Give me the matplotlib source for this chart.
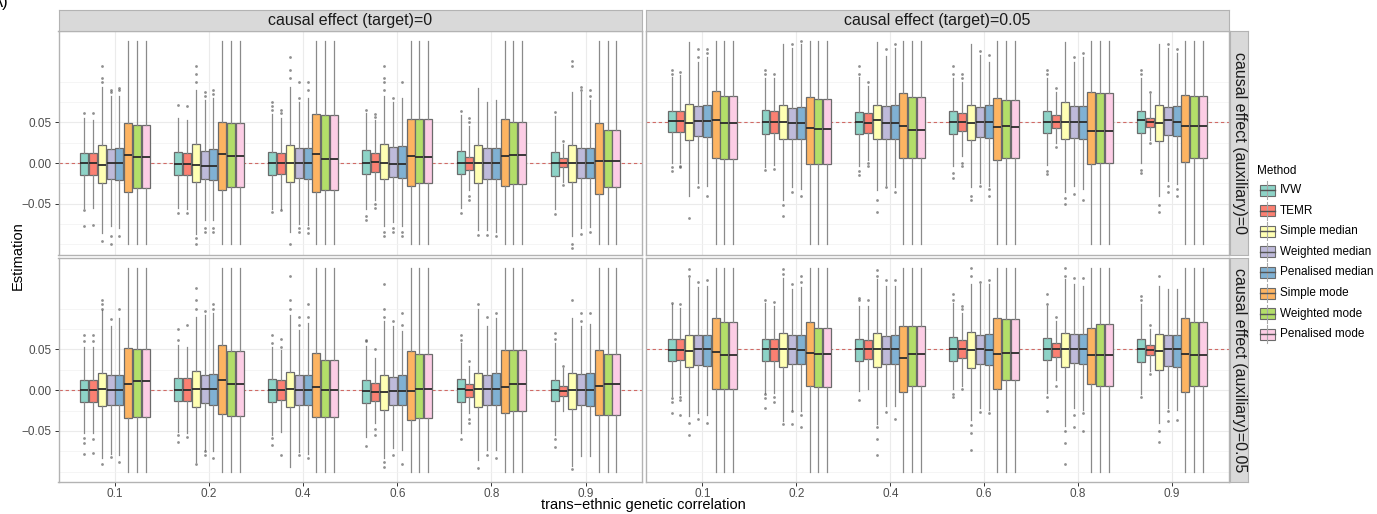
import numpy as np
import matplotlib
matplotlib.use("Agg")
import matplotlib.pyplot as plt
from matplotlib.patches import Rectangle

plt.rcParams['font.family'] = ['Liberation Sans', 'DejaVu Sans']

# ---------------- data ----------------
methods = ["IVW", "TEMR", "Simple median", "Weighted median", "Penalised median",
           "Simple mode", "Weighted mode", "Penalised mode"]
colors = ["#8DD3C7", "#FB8072", "#FFFFB3", "#BEBADA", "#80B1D3",
          "#FDB462", "#B3DE69", "#FCCDE5"]
rho_labels = ["0.1", "0.2", "0.4", "0.6", "0.8", "0.9"]
col_labels = ["causal effect (target)=0", "causal effect (target)=0.05"]
row_labels = ["causal effect (auxiliary)=0", "causal effect (auxiliary)=0.05"]
targets = [0.0, 0.05]
# whiskers of the three mode methods run past the plotting range
mode_whisker = (-0.1, 0.15)

# top-left: target=0, auxiliary=0   (rows = rho, cols = method)
tl_q1 = [[-0.015, -0.015, -0.024, -0.020, -0.021, -0.036, -0.031, -0.031],
         [-0.015, -0.015, -0.023, -0.019, -0.021, -0.033, -0.030, -0.030],
         [-0.015, -0.013, -0.023, -0.018, -0.019, -0.035, -0.033, -0.033],
         [-0.013, -0.011, -0.019, -0.017, -0.018, -0.028, -0.025, -0.025],
         [-0.014, -0.008, -0.024, -0.020, -0.020, -0.028, -0.026, -0.026],
         [-0.016, -0.005, -0.023, -0.018, -0.018, -0.038, -0.030, -0.030]]
tl_med = [[0.000, 0.000, -0.002, 0.000, 0.000, 0.010, 0.007, 0.007],
          [-0.001, -0.001, -0.002, -0.003, -0.003, 0.011, 0.009, 0.009],
          [0.000, 0.000, 0.000, 0.000, 0.000, 0.011, 0.005, 0.005],
          [0.000, 0.001, 0.000, -0.001, -0.001, 0.009, 0.008, 0.008],
          [0.0005, 0.000, 0.000, 0.000, 0.000, 0.009, 0.010, 0.010],
          [0.000, 0.000, 0.000, 0.000, 0.000, 0.002, 0.003, 0.003]]
tl_q3 = [[0.013, 0.013, 0.022, 0.017, 0.018, 0.049, 0.047, 0.047],
         [0.014, 0.013, 0.023, 0.015, 0.017, 0.050, 0.049, 0.049],
         [0.014, 0.012, 0.022, 0.018, 0.018, 0.060, 0.059, 0.059],
         [0.016, 0.012, 0.023, 0.020, 0.021, 0.054, 0.054, 0.054],
         [0.015, 0.008, 0.022, 0.018, 0.019, 0.054, 0.050, 0.050],
         [0.014, 0.006, 0.022, 0.018, 0.019, 0.049, 0.041, 0.041]]
tl_lo = [[-0.055, -0.055, -0.086, -0.078, -0.080],
         [-0.055, -0.057, -0.087, -0.070, -0.070],
         [-0.056, -0.057, -0.085, -0.075, -0.076],
         [-0.056, -0.045, -0.078, -0.072, -0.078],
         [-0.055, -0.033, -0.082, -0.082, -0.085],
         [-0.057, -0.023, -0.090, -0.080, -0.079]]
tl_hi = [[0.055, 0.053, 0.093, 0.083, 0.083],
         [0.055, 0.053, 0.090, 0.078, 0.080],
         [0.060, 0.055, 0.093, 0.075, 0.080],
         [0.061, 0.053, 0.083, 0.075, 0.080],
         [0.059, 0.045, 0.092, 0.075, 0.078],
         [0.058, 0.024, 0.088, 0.088, 0.077]]
tl_out = [[[0.062, -0.058, -0.078], [0.062, -0.076], [0.10, 0.105, 0.12, -0.096], [0.088, 0.09, -0.09, -0.1], [0.09, 0.092, -0.09]],
          [[0.071, -0.062], [0.07, -0.062], [0.1, 0.11, 0.12, -0.092, -0.1], [0.083, 0.088, -0.08, -0.085], [0.085, 0.09, -0.08, -0.085]],
          [[0.065, 0.07, 0.075, -0.06], [0.062, 0.065, -0.058], [0.105, 0.115, 0.13, -0.1], [0.08, 0.1, -0.08, -0.085], [0.09, 0.1, -0.08, -0.086]],
          [[0.065, -0.065, -0.07], [0.057, 0.06, -0.05, -0.055], [0.09, 0.1, 0.105, 0.12, -0.085, -0.09], [0.08, -0.08, -0.085], [0.1, -0.085, -0.09]],
          [[0.064, -0.062], [0.05, 0.055, -0.04, -0.045], [-0.088], [-0.088], [-0.09]],
          [[0.063, -0.063], [0.027, -0.027], [0.12, 0.125, -0.1, -0.105], [0.09, 0.094, -0.087], [0.082, 0.09, -0.085]]]

# top-right: target=0.05, auxiliary=0
tr_q1 = [[0.038, 0.038, 0.028, 0.033, 0.032, 0.006, 0.0045, 0.0045],
         [0.036, 0.037, 0.029, 0.030, 0.030, -0.0016, -0.0016, -0.0016],
         [0.036, 0.037, 0.030, 0.030, 0.029, 0.0065, 0.0065, 0.0065],
         [0.0356, 0.039, 0.028, 0.032, 0.031, 0.0037, 0.006, 0.006],
         [0.037, 0.0426, 0.029, 0.031, 0.030, -0.0016, 0.0004, 0.0004],
         [0.037, 0.0446, 0.027, 0.034, 0.033, 0.0016, 0.0065, 0.0065]]
tr_med = [[0.052, 0.052, 0.049, 0.052, 0.052, 0.053, 0.049, 0.049],
          [0.050, 0.050, 0.050, 0.049, 0.049, 0.043, 0.042, 0.042],
          [0.051, 0.049, 0.053, 0.049, 0.049, 0.046, 0.041, 0.041],
          [0.050, 0.050, 0.049, 0.050, 0.050, 0.044, 0.045, 0.044],
          [0.051, 0.051, 0.050, 0.051, 0.051, 0.039, 0.039, 0.039],
          [0.053, 0.051, 0.049, 0.053, 0.051, 0.046, 0.046, 0.046]]
tr_q3 = [[0.064, 0.064, 0.0725, 0.070, 0.071, 0.0885, 0.083, 0.083],
         [0.065, 0.064, 0.072, 0.068, 0.069, 0.081, 0.079, 0.079],
         [0.0627, 0.061, 0.072, 0.070, 0.071, 0.0856, 0.081, 0.081],
         [0.064, 0.061, 0.071, 0.069, 0.071, 0.0795, 0.077, 0.077],
         [0.064, 0.059, 0.075, 0.070, 0.070, 0.0876, 0.0866, 0.0866],
         [0.064, 0.056, 0.072, 0.069, 0.070, 0.0835, 0.083, 0.083]]
tr_lo = [[0.000, 0.000, -0.041, -0.025, -0.028],
         [-0.0045, -0.002, -0.045, -0.030, -0.032],
         [-0.004, 0.004, -0.033, -0.027, -0.029],
         [-0.004, 0.009, -0.030, -0.024, -0.028],
         [-0.002, 0.025, -0.036, -0.028, -0.032],
         [0.000, 0.028, -0.040, -0.022, -0.026]]
tr_hi = [[0.106, 0.108, 0.149, 0.124, 0.130],
         [0.105, 0.105, 0.146, 0.142, 0.146],
         [0.106, 0.095, 0.149, 0.132, 0.142],
         [0.105, 0.100, 0.146, 0.133, 0.124],
         [0.105, 0.087, 0.149, 0.124, 0.130],
         [0.105, 0.085, 0.147, 0.142, 0.135]]
tr_out = [[[0.11, 0.115, -0.005, -0.01], [0.112, -0.003, -0.005], [-0.068], [0.13, 0.14, -0.03], [0.135, 0.14, -0.04]],
          [[0.11, 0.115, -0.008], [0.11, -0.007], [-0.052, -0.065], [0.147, -0.035], [0.15, -0.04]],
          [[0.11, 0.12, -0.01, -0.015], [0.1, 0.0, -0.003], [-0.045, -0.06], [0.14, -0.03], [0.147, -0.035]],
          [[0.11, 0.12, -0.012, -0.018], [0.105, 0.11, 0.0, -0.003], [-0.04, -0.045], [0.138, -0.028], [0.133, -0.032, -0.04]],
          [[0.11, 0.115, -0.01, -0.013], [0.092, 0.02], [-0.043, -0.05], [0.13, -0.038], [0.135, -0.045]],
          [[0.11, 0.115, -0.008, -0.012], [0.088, 0.025], [-0.052, -0.06], [0.146, -0.028, -0.036], [0.14, -0.032, -0.04]]]

# bottom-left: target=0, auxiliary=0.05
bl_q1 = [[-0.014, -0.014, -0.020, -0.018, -0.018, -0.034, -0.033, -0.033],
         [-0.013, -0.013, -0.021, -0.016, -0.018, -0.029, -0.032, -0.032],
         [-0.014, -0.012, -0.021, -0.018, -0.018, -0.033, -0.033, -0.033],
         [-0.0156, -0.0127, -0.024, -0.018, -0.018, -0.037, -0.034, -0.034],
         [-0.014, -0.0086, -0.0205, -0.018, -0.018, -0.028, -0.026, -0.026],
         [-0.0127, -0.0066, -0.0225, -0.018, -0.020, -0.031, -0.030, -0.030]]
bl_med = [[0.000, 0.000, 0.001, 0.000, 0.000, 0.007, 0.011, 0.011],
          [0.000, 0.000, 0.002, 0.001, 0.001, 0.013, 0.008, 0.008],
          [0.000, 0.000, 0.001, 0.000, 0.000, 0.004, 0.000, 0.000],
          [-0.001, -0.002, -0.002, -0.001, -0.001, -0.001, 0.001, 0.001],
          [0.001, 0.000, 0.001, 0.001, 0.001, 0.004, 0.007, 0.007],
          [0.000, -0.001, 0.000, 0.000, 0.000, 0.005, 0.008, 0.008]]
bl_q3 = [[0.013, 0.013, 0.021, 0.019, 0.019, 0.052, 0.050, 0.050],
         [0.0143, 0.0143, 0.024, 0.019, 0.020, 0.055, 0.048, 0.048],
         [0.014, 0.013, 0.0225, 0.018, 0.019, 0.045, 0.037, 0.037],
         [0.012, 0.009, 0.019, 0.016, 0.018, 0.048, 0.044, 0.044],
         [0.014, 0.008, 0.021, 0.019, 0.0205, 0.049, 0.049, 0.049],
         [0.013, 0.005, 0.021, 0.020, 0.021, 0.049, 0.044, 0.044]]
bl_lo = [[-0.053, -0.053, -0.083, -0.078, -0.080],
         [-0.051, -0.053, -0.088, -0.073, -0.074],
         [-0.055, -0.051, -0.094, -0.076, -0.078],
         [-0.057, -0.040, -0.083, -0.071, -0.073],
         [-0.052, -0.028, -0.085, -0.073, -0.073],
         [-0.055, -0.025, -0.093, -0.081, -0.081]]
bl_hi = [[0.053, 0.053, 0.098, 0.078, 0.088],
         [0.055, 0.053, 0.090, 0.092, 0.094],
         [0.053, 0.049, 0.092, 0.074, 0.082],
         [0.054, 0.040, 0.085, 0.079, 0.073],
         [0.058, 0.030, 0.099, 0.079, 0.089],
         [0.058, 0.027, 0.089, 0.079, 0.081]]
bl_out = [[[0.06, 0.067, -0.058, -0.065, -0.078], [0.06, 0.067, -0.06, -0.077], [0.1, 0.105, 0.11, -0.09], [0.087, -0.082], [0.1, -0.088]],
          [[0.062, 0.075, -0.055, -0.063], [0.08, -0.057], [0.1, 0.11, 0.125, -0.09], [0.097, -0.075, -0.08], [0.1, 0.105, -0.083]],
          [[0.058, 0.067, -0.058, -0.067], [0.053, 0.063, -0.08], [0.1, 0.11, 0.14], [0.08, 0.09, -0.08], [0.09, 0.105, -0.083]],
          [[0.06, 0.062, -0.068], [0.05, -0.048, -0.055], [0.09, 0.1, 0.13, -0.088, -0.094], [0.085, -0.08], [0.08, 0.095, -0.09]],
          [[0.062, 0.068, -0.06], [0.036, -0.035, -0.04], [0.106, -0.095], [0.09, -0.08], [0.095, -0.083]],
          [[0.063, 0.07, -0.06, -0.07], [0.03], [0.11, -0.097], [0.085, 0.095], [0.095]]]

# bottom-right: target=0.05, auxiliary=0.05
br_q1 = [[0.0352, 0.0364, 0.028, 0.031, 0.029, 0.002, 0.002, 0.002],
         [0.036, 0.036, 0.028, 0.032, 0.0315, 0.005, 0.0037, 0.0037],
         [0.036, 0.0385, 0.028, 0.0315, 0.0315, -0.0025, 0.005, 0.005],
         [0.036, 0.0397, 0.0266, 0.0315, 0.031, 0.0016, 0.012, 0.012],
         [0.0364, 0.041, 0.028, 0.033, 0.0315, 0.007, 0.0057, 0.0057],
         [0.034, 0.043, 0.025, 0.030, 0.0287, -0.0025, 0.005, 0.005]]
br_med = [[0.0487, 0.0487, 0.048, 0.050, 0.050, 0.0467, 0.043, 0.043],
          [0.051, 0.051, 0.050, 0.050, 0.049, 0.046, 0.044, 0.044],
          [0.050, 0.050, 0.050, 0.051, 0.051, 0.039, 0.044, 0.044],
          [0.050, 0.050, 0.0487, 0.050, 0.0487, 0.0446, 0.046, 0.046],
          [0.050, 0.050, 0.051, 0.050, 0.050, 0.043, 0.043, 0.043],
          [0.050, 0.049, 0.048, 0.050, 0.050, 0.044, 0.0426, 0.0426]]
br_q3 = [[0.0622, 0.0622, 0.068, 0.067, 0.067, 0.088, 0.084, 0.084],
         [0.063, 0.063, 0.070, 0.0676, 0.0676, 0.0835, 0.0766, 0.0766],
         [0.063, 0.062, 0.070, 0.066, 0.067, 0.078, 0.078, 0.078],
         [0.0647, 0.061, 0.0717, 0.068, 0.069, 0.089, 0.087, 0.087],
         [0.0635, 0.058, 0.070, 0.069, 0.069, 0.0766, 0.0807, 0.0807],
         [0.063, 0.055, 0.069, 0.067, 0.0676, 0.089, 0.084, 0.084]]
br_lo = [[-0.007, -0.005, -0.032, -0.028, -0.030],
         [-0.003, -0.004, -0.038, -0.024, -0.026],
         [-0.001, 0.001, -0.042, -0.020, -0.020],
         [0.001, 0.005, -0.036, -0.022, -0.024],
         [-0.003, 0.013, -0.044, -0.022, -0.024],
         [-0.005, 0.023, -0.040, -0.022, -0.024]]
br_hi = [[0.105, 0.101, 0.138, 0.126, 0.128],
         [0.107, 0.103, 0.138, 0.124, 0.126],
         [0.103, 0.103, 0.136, 0.128, 0.128],
         [0.107, 0.095, 0.130, 0.130, 0.130],
         [0.103, 0.085, 0.136, 0.130, 0.128],
         [0.105, 0.075, 0.128, 0.124, 0.124]]
br_out = [[[0.107, -0.01, -0.015, -0.028], [0.105, -0.008, -0.012, -0.03], [0.14, 0.148, -0.04, -0.055], [0.132, -0.035], [0.135, -0.04]],
          [[0.11, -0.005, -0.01, -0.022], [0.108, -0.008, -0.015], [0.142, 0.148, -0.042], [0.13, -0.025, -0.042], [0.132, 0.14, -0.03, -0.045]],
          [[0.11, 0.113, -0.012], [0.11], [0.14, 0.147, -0.045, -0.06, -0.08], [0.135, -0.027], [0.135, -0.035]],
          [[0.11, 0.118, -0.005, -0.008], [0.1, 0.103, 0.001], [0.14, 0.15, -0.043, -0.053, -0.073], [0.133, -0.027], [0.135, -0.028]],
          [[0.105, 0.118, -0.008, -0.026], [0.09, 0.005], [0.14, 0.15, -0.05, -0.065, -0.09], [0.138, -0.03, -0.045], [0.138, -0.028, -0.05]],
          [[0.11, 0.115, -0.008], [0.08, 0.02], [0.14, -0.05, -0.063], [-0.025, -0.038], [-0.037]]]

panels = [
    (0, 0, tl_q1, tl_med, tl_q3, tl_lo, tl_hi, tl_out),
    (0, 1, tr_q1, tr_med, tr_q3, tr_lo, tr_hi, tr_out),
    (1, 0, bl_q1, bl_med, bl_q3, bl_lo, bl_hi, bl_out),
    (1, 1, br_q1, br_med, br_q3, br_lo, br_hi, br_out),
]

# ---------------- layout (pixels) ----------------
W, H = 1377, 514
fig = plt.figure(figsize=(W / 100, H / 100), dpi=100)

def px_axes(l, t, r, b):
    return fig.add_axes([l / W, 1 - b / H, (r - l) / W, (b - t) / H])

col_px = [(58.5, 642.0), (646.0, 1228.5)]
row_px = [(31.0, 254.5), (257.5, 482.0)]
grey_border = "#B3B3B3"
strip_fill = "#D9D9D9"
edge_col = "#6B6B6B"
whisk_col = "#8A8A8A"

step = 0.75 / 8
box_w = 0.085

for r, c, q1, med, q3, lo, hi, out in panels:
    l, rr = col_px[c]
    t, b = row_px[r]
    ax = px_axes(l, t, rr, b)
    stats, pos = [], []
    for g in range(len(rho_labels)):
        for m in range(len(methods)):
            if m < 5:
                wl, wh, fl = lo[g][m], hi[g][m], out[g][m]
            else:
                wl, wh = mode_whisker
                fl = []
            stats.append(dict(med=med[g][m], q1=q1[g][m], q3=q3[g][m],
                              whislo=wl, whishi=wh, fliers=fl))
            pos.append(g + 1 + (m - 3.5) * step)
    res = ax.bxp(stats, positions=pos, widths=box_w, patch_artist=True,
                 showcaps=False, manage_ticks=False,
                 boxprops=dict(edgecolor=edge_col, linewidth=0.9),
                 whiskerprops=dict(color=whisk_col, linewidth=0.9),
                 medianprops=dict(color="#2b2b2b", linewidth=1.3),
                 flierprops=dict(marker="o", markersize=2.0, markerfacecolor="#555555",
                                 markeredgecolor="none", alpha=0.65))
    for i, patch in enumerate(res["boxes"]):
        patch.set_facecolor(colors[i % len(methods)])
    ax.axhline(targets[c], color="#C8403A", linestyle=(0, (3, 2.5)), linewidth=0.8,
               alpha=0.75, zorder=1.5)

    ax.set_xlim(0.4, 6.6)
    ax.set_ylim(-0.1125, 0.1625)
    ax.set_yticks([-0.05, 0.0, 0.05])
    ax.set_yticks([-0.1, -0.075, -0.025, 0.025, 0.075, 0.1], minor=True)
    ax.set_xticks(range(1, 7))
    ax.set_axisbelow(True)
    ax.grid(which="major", color="#EBEBEB", linewidth=0.8)
    ax.grid(which="minor", axis="y", color="#F2F2F2", linewidth=0.5)
    for sp in ax.spines.values():
        sp.set_color(grey_border)
        sp.set_linewidth(1.0)
    ax.tick_params(which="minor", length=0)
    ax.tick_params(which="major", length=3, color="#333333", width=0.7,
                   labelsize=8.5, labelcolor="#4D4D4D", pad=2)
    ax.tick_params(axis="x", pad=1.5)
    if c == 0:
        ax.set_yticklabels(["\u22120.05", "0.00", "0.05"])
    else:
        ax.tick_params(axis="y", left=False, labelleft=False)
    if r == 1:
        ax.set_xticklabels(rho_labels)
    else:
        ax.tick_params(axis="x", bottom=False, labelbottom=False)

# column strips
for c, lab in enumerate(col_labels):
    l, rr = col_px[c]
    sax = px_axes(l, 10.0, rr, 31.0)
    sax.set_facecolor(strip_fill)
    sax.set_xticks([]); sax.set_yticks([])
    for sp in sax.spines.values():
        sp.set_color(grey_border)
    sax.text(0.5, 0.5, lab, transform=sax.transAxes, ha="center", va="center",
             fontsize=11.5, color="#1A1A1A")

# row strips
for r, lab in enumerate(row_labels):
    t, b = row_px[r]
    sax = px_axes(1229.5, t, 1248.5, b)
    sax.set_facecolor(strip_fill)
    sax.set_xticks([]); sax.set_yticks([])
    for sp in sax.spines.values():
        sp.set_color(grey_border)
    sax.text(0.5, 0.5, lab, transform=sax.transAxes, ha="center", va="center",
             rotation=-90, fontsize=11.5, color="#1A1A1A")

# axis titles
fig.text(18 / W, 1 - 256 / H, "Estimation", rotation=90, ha="center", va="center",
         fontsize=10.5, color="#000000")
fig.text(643 / W, 1 - 505 / H, "trans\u2212ethnic genetic correlation", ha="center",
         va="center", fontsize=10.5, color="#000000")
fig.text(9 / W, 1 - 3 / H, "A)", ha="right", va="center", fontsize=12)

# legend
lax = px_axes(1252, 160, 1377, 355)
lax.set_xlim(1252, 1377)
lax.set_ylim(355, 160)
lax.axis("off")
lax.text(1257, 171.5, "Method", ha="left", va="center", fontsize=8.5)
for i, (name, colr) in enumerate(zip(methods, colors)):
    yc = 190 + i * 20.6
    xc = 1267
    lax.plot([xc, xc], [yc - 9, yc + 9], color="#A8A8A8", lw=0.8)
    lax.add_patch(Rectangle((1259.5, yc - 5.5), 15, 11, facecolor=colr,
                            edgecolor=edge_col, lw=0.8))
    lax.plot([1259.5, 1274.5], [yc, yc], color="#555555", lw=1.0)
    lax.text(1280, yc, name, ha="left", va="center", fontsize=8.5)

fig.savefig("out.png", dpi=100)
